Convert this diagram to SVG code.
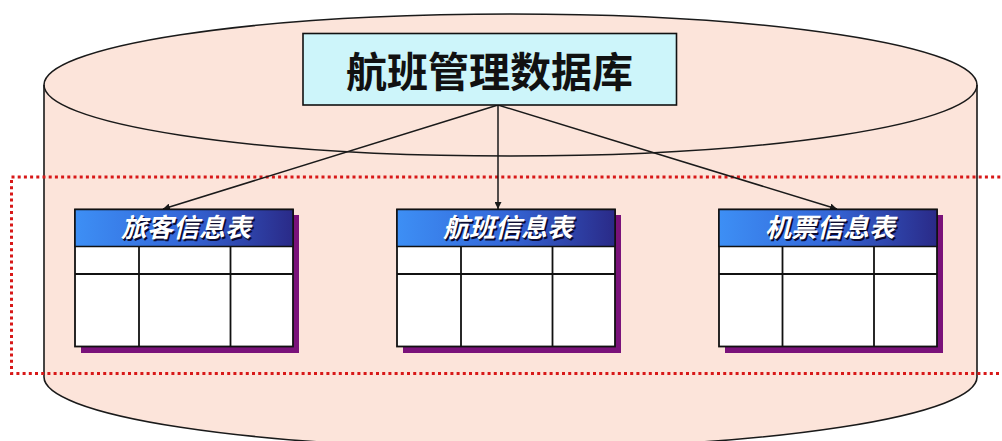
<svg xmlns="http://www.w3.org/2000/svg" width="1002" height="441" viewBox="0 0 1002 441">
<style>
.cyl{fill:#fce4da;stroke:#1a1a1a;stroke-width:1.6}
.edge{fill:none;stroke:#1a1a1a;stroke-width:1.5}
.cell{fill:#ffffff;stroke:#111;stroke-width:1.8}
.grid{stroke:#111;stroke-width:1.8}
.hdr{fill:url(#hg);stroke:#111;stroke-width:1.5}
.shadow{fill:#7a127a}
.htxt{font-family:"Noto Sans CJK SC","Noto Sans CJK JP",sans-serif;font-size:26px;font-weight:700;font-style:italic;fill:#fff;text-anchor:middle}
.hsh{font-family:"Noto Sans CJK SC","Noto Sans CJK JP",sans-serif;font-size:26px;font-weight:700;font-style:italic;fill:#0a0a30;text-anchor:middle}
.title{font-family:"Noto Sans CJK SC","Noto Sans CJK JP",sans-serif;font-size:41px;font-weight:600;fill:#111;text-anchor:middle}
.conn{stroke:#1a1a1a;stroke-width:1.5;fill:none;marker-end:url(#ah)}
</style>
<defs>
<linearGradient id="hg" x1="0" y1="0" x2="1" y2="0">
<stop offset="0" stop-color="#3d8ff5"/>
<stop offset="0.5" stop-color="#3467d8"/>
<stop offset="1" stop-color="#2a2a88"/>
</linearGradient>
<marker id="ah" viewBox="0 0 10 10" refX="10" refY="5" markerWidth="7" markerHeight="7" orient="auto" markerUnits="userSpaceOnUse">
<path d="M0,0 L10,5 L0,10 z" fill="#1a1a1a"/>
</marker>
</defs>
<rect width="1002" height="441" fill="#ffffff"/>
<g id="database">
<path class="cyl" d="M44,85 A466.5,71 0 0 1 977,85 L977,377 A466.5,71 0 0 1 44,377 Z"/>
<path class="edge" d="M44,85 A466.5,71 0 0 0 977,85"/>
</g>
<rect x="11.5" y="177" width="1000" height="196.5" fill="none" stroke="#d81818" stroke-width="3" stroke-dasharray="3 3.2"/>
<g id="connectors">
<line class="conn" x1="498" y1="105" x2="163" y2="209"/>
<line class="conn" x1="498" y1="105" x2="498" y2="209"/>
<line class="conn" x1="498" y1="105" x2="837" y2="209"/>
</g>
<g id="title">
<rect x="303" y="33.5" width="373.5" height="71.5" fill="#cdf5fa" stroke="#111" stroke-width="1.6"/>
<text class="title" x="489.5" y="87">航班管理数据库</text>
</g>
<g id="t1">
<rect class="shadow" x="81" y="215" width="218" height="138"/>
<rect class="cell" x="75" y="209.5" width="218" height="137"/>
<rect class="hdr" x="75" y="209.5" width="218" height="37"/>
<line class="grid" x1="75" y1="274" x2="293" y2="274"/>
<line class="grid" x1="139" y1="246.5" x2="139" y2="346.5"/>
<line class="grid" x1="230.5" y1="246.5" x2="230.5" y2="346.5"/>
<text class="hsh" x="187.5" y="238.5">旅客信息表</text>
<text class="htxt" x="186" y="237">旅客信息表</text>
</g>
<g id="t2">
<rect class="shadow" x="403" y="215" width="218" height="138"/>
<rect class="cell" x="397" y="209.5" width="218" height="137"/>
<rect class="hdr" x="397" y="209.5" width="218" height="37"/>
<line class="grid" x1="397" y1="274" x2="615" y2="274"/>
<line class="grid" x1="461" y1="246.5" x2="461" y2="346.5"/>
<line class="grid" x1="552.5" y1="246.5" x2="552.5" y2="346.5"/>
<text class="hsh" x="509.5" y="238.5">航班信息表</text>
<text class="htxt" x="508" y="237">航班信息表</text>
</g>
<g id="t3">
<rect class="shadow" x="725" y="215" width="218" height="138"/>
<rect class="cell" x="719" y="209.5" width="218" height="137"/>
<rect class="hdr" x="719" y="209.5" width="218" height="37"/>
<line class="grid" x1="719" y1="274" x2="937" y2="274"/>
<line class="grid" x1="782.5" y1="246.5" x2="782.5" y2="346.5"/>
<line class="grid" x1="874" y1="246.5" x2="874" y2="346.5"/>
<text class="hsh" x="831.5" y="238.5">机票信息表</text>
<text class="htxt" x="830" y="237">机票信息表</text>
</g>
</svg>
